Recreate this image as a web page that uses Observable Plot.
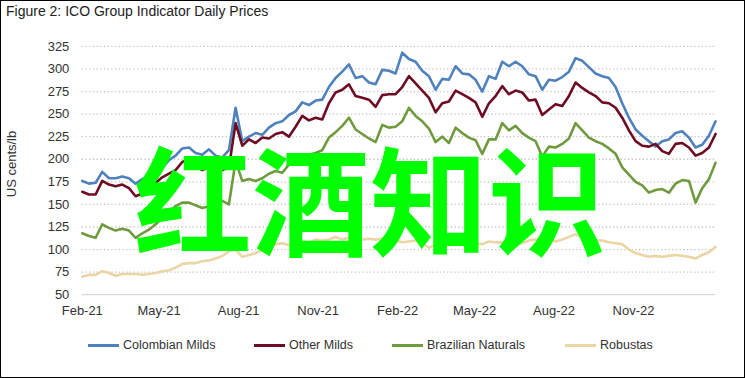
<!DOCTYPE html>
<html>
<head>
<meta charset="utf-8">
<script src="https://cdn.jsdelivr.net/npm/d3@7"></script>
<script src="https://cdn.jsdelivr.net/npm/@observablehq/plot@0.6"></script>
<style>
  html, body { margin: 0; padding: 0; background: #fff; }
  #frame { position: relative; width: 745px; height: 378px; box-sizing: border-box; border: 1px solid #000; overflow: hidden; font-family: "Liberation Sans", sans-serif; color: #333; }
  #title { position: absolute; left: 5px; top: 2px; font-size: 14px; color: #222; white-space: nowrap; }
  #chart { position: absolute; left: -1px; top: -1px; }
  #ylab { position: absolute; left: 10px; top: 163px; transform: translate(-50%, -50%) rotate(-90deg); font-size: 13px; white-space: nowrap; color: #333; }
  #legend { position: absolute; left: 0; top: 337px; width: 745px; height: 17px; font-size: 12.5px; color: #333; }
  .item { position: absolute; top: 0; display: flex; align-items: center; white-space: nowrap; }
  .item:nth-child(1) { left: 87px; }
  .item:nth-child(2) { left: 253px; }
  .item:nth-child(3) { left: 391px; }
  .item:nth-child(4) { left: 564px; }
  .sw { width: 31px; height: 3px; margin-right: 4px; }
  #wm { position: absolute; left: 133px; top: 136px; font-family: "Noto Sans CJK SC", sans-serif; font-weight: 700; font-size: 118px; line-height: 118px; color: #00ff00; white-space: nowrap; }
</style>
</head>
<body>
<div id="frame">
  <div id="chart"></div>
  <div id="title">Figure 2: ICO Group Indicator Daily Prices</div>
  <div id="ylab">US cents/lb</div>
  <div id="legend"></div>
  <div id="wm">红酒知识</div>
</div>
<script>
// ---- data ----
const seriesNames = ["Colombian Milds", "Other Milds", "Brazilian Naturals", "Robustas"];
const seriesColors = ["#4f81bd", "#6d0c22", "#6f9a3e", "#ecd5a4"];
const xTickLabels = ["Feb-21", "May-21", "Aug-21", "Nov-21", "Feb-22", "May-22", "Aug-22", "Nov-22"];
const xTickDates = ["2021-02-01", "2021-05-01", "2021-08-01", "2021-11-01", "2022-02-01", "2022-05-01", "2022-08-01", "2022-11-01"];
const yTicks = [50, 75, 100, 125, 150, 175, 200, 225, 250, 275, 300, 325];
const firstDate = "2021-02-01";
const lastDate = "2023-02-04";

// values sampled at equal steps from firstDate to lastDate
const colombianMilds = [176,173,174,186,179,179,181,179,173,178,182,186,190,199,204,212,213,207,205,211,204,202,210,257,220,225,229,227,235,240,242,249,253,263,260,265,266,280,290,297,305,290,292,285,283,299,298,295,318,311,308,298,292,277,289,288,303,295,294,288,275,292,289,308,303,308,303,294,292,277,288,287,291,297,312,309,302,295,292,290,280,262,246,233,226,220,214,220,222,229,231,224,213,216,226,242];
const otherMilds = [164,161,161,176,172,170,172,168,159,162,168,174,180,184,188,197,200,192,188,191,194,188,191,240,215,222,218,224,223,228,230,225,236,248,243,246,244,262,274,277,283,270,268,266,258,271,272,272,280,292,284,276,268,252,262,264,276,272,268,263,247,262,270,281,272,276,274,265,266,249,255,261,259,270,285,279,274,270,263,262,257,246,232,220,215,214,217,209,206,217,218,213,204,207,213,228];
const brazilianNaturals = [118,115,113,128,124,121,123,121,113,118,122,128,135,142,148,152,152,149,146,148,157,154,150,198,176,178,176,179,184,187,185,194,194,200,205,207,210,224,230,237,246,233,228,223,219,238,235,236,242,257,248,242,234,219,225,218,235,229,224,221,206,222,222,240,232,237,229,224,220,203,214,213,217,223,240,232,224,220,217,212,206,191,183,175,171,163,166,167,163,173,177,176,152,168,178,196];
const robustas = [70,72,72,76,74,71,73,73,73,72,73,74,76,77,80,84,85,85,87,88,90,93,98,100,92,94,96,100,104,106,107,105,106,109,108,111,110,111,114,111,113,112,111,112,111,112,111,110,108,109,110,107,102,105,104,106,107,106,105,107,106,109,108,108,110,106,107,110,111,113,112,109,111,114,117,113,112,110,110,108,107,106,100,96,94,92,93,92,93,94,93,92,90,94,97,103];

const t0 = new Date(firstDate + "T00:00:00Z");
const t1 = new Date(lastDate + "T00:00:00Z");
const allSeries = [colombianMilds, otherMilds, brazilianNaturals, robustas];
const rows = [];
allSeries.forEach((vals, s) => {
  const step = (t1 - t0) / (vals.length - 1);
  vals.forEach((v, i) => rows.push({date: new Date(+t0 + i * step), value: v, series: seriesNames[s]}));
});
const tickDates = xTickDates.map(d => new Date(d + "T00:00:00Z"));

const chart = Plot.plot({
  width: 746,
  height: 331,
  marginTop: 46,
  marginBottom: 36,
  marginLeft: 82,
  marginRight: 29,
  style: {fontFamily: "'Liberation Sans', sans-serif", fontSize: "13px", color: "#333", background: "transparent"},
  x: {type: "utc", domain: [t0, t1], axis: null, label: null},
  y: {domain: [50, 325], axis: null, label: null},
  color: {domain: seriesNames, range: seriesColors},
  marks: [
    Plot.ruleY(yTicks.filter(t => t > 50), {stroke: "#c4c4c4", strokeWidth: 1.3, strokeDasharray: "1.3,2.4"}),
    Plot.ruleY([50], {stroke: "#d9d9d9", strokeWidth: 1.3}),
    Plot.axisY(yTicks, {label: null, tickSize: 0, tickPadding: 13, fontSize: 13, fill: "#333"}),
    Plot.axisX(tickDates, {label: null, tickSize: 0, tickPadding: 11, fontSize: 13, tickFormat: d => xTickLabels[tickDates.findIndex(t => +t === +d)], fill: "#333"}),
    Plot.line(rows, {x: "date", y: "value", z: "series", stroke: "series", strokeWidth: 2.6, strokeLinejoin: "round", strokeLinecap: "round"})
  ]
});
document.getElementById("chart").appendChild(chart);

const legend = document.getElementById("legend");
seriesNames.forEach((name, i) => {
  const item = document.createElement("div");
  item.className = "item";
  const sw = document.createElement("span");
  sw.className = "sw";
  sw.style.background = seriesColors[i];
  const t = document.createElement("span");
  t.textContent = name;
  item.appendChild(sw);
  item.appendChild(t);
  legend.appendChild(item);
});
</script>
</body>
</html>
